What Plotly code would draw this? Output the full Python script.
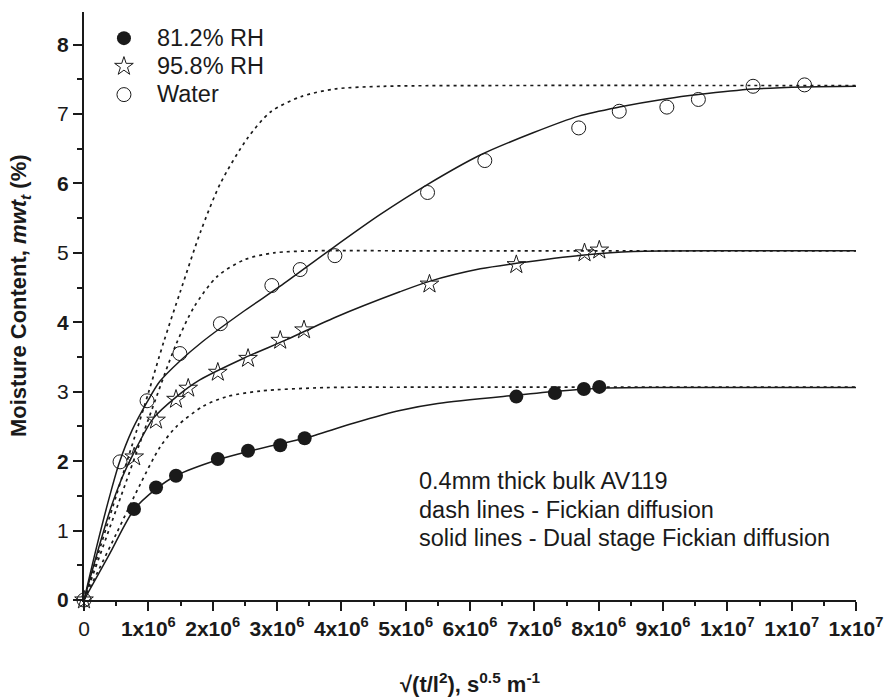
import numpy as np
import plotly.graph_objects as go

SCALE = 1e6  # x values below are listed in units of 10^6 s^0.5 m^-1

# Measured moisture uptake
rh81_x = [0.777, 1.12, 1.43, 2.08, 2.55, 3.05, 3.43, 6.72, 7.32, 7.77, 8.01]
rh81_y = [1.31, 1.62, 1.79, 2.03, 2.15, 2.23, 2.33, 2.93, 2.98, 3.04, 3.07]

rh95_x = [0, 0.78, 1.12, 1.43, 1.62, 2.08, 2.55, 3.05, 3.42, 5.37, 6.72, 7.78, 8.01]
rh95_y = [0, 2.06, 2.59, 2.89, 3.05, 3.28, 3.48, 3.74, 3.89, 4.55, 4.83, 5.00, 5.04]

water_x = [0, 0.56, 0.98, 1.49, 2.12, 2.92, 3.36, 3.90, 5.34, 6.23, 7.69, 8.32, 9.06, 9.55, 10.40, 11.20]
water_y = [0, 1.99, 2.87, 3.55, 3.98, 4.53, 4.76, 4.96, 5.87, 6.33, 6.80, 7.04, 7.10, 7.21, 7.40, 7.42]

# Dual stage Fickian fits (solid)
rh81_dual_x = [0, 0.39, 0.777, 1.12, 1.43, 2.08, 2.55, 3.05, 3.43, 4.2, 4.91, 5.5, 6.72, 7.4, 8.02, 9.0, 10.1, 12.0]
rh81_dual_y = [0, 0.65, 1.30, 1.60, 1.79, 2.02, 2.14, 2.25, 2.33, 2.55, 2.73, 2.83, 2.95, 3.01, 3.05, 3.06, 3.06, 3.06]

rh95_dual_x = [0, 0.2, 0.4, 0.6, 0.78, 1.08, 1.44, 1.8, 2.5, 3.15, 3.9, 4.91, 5.37, 6.16, 6.72, 7.78, 8.54, 10.09, 12.0]
rh95_dual_y = [0, 0.66, 1.28, 1.78, 2.13, 2.62, 2.93, 3.17, 3.49, 3.75, 4.07, 4.44, 4.59, 4.77, 4.85, 4.97, 5.02, 5.03, 5.03]

water_dual_x = [0, 0.2, 0.4, 0.55, 0.75, 0.98, 1.18, 1.5, 1.84, 2.5, 3.05, 3.82, 4.6, 5.33, 6.16, 6.98, 7.69, 8.32, 9.06, 9.55, 10.4, 11.2, 12.0]
water_dual_y = [0, 0.78, 1.5, 1.98, 2.45, 2.85, 3.15, 3.45, 3.72, 4.17, 4.52, 5.04, 5.55, 5.98, 6.41, 6.73, 6.97, 7.10, 7.22, 7.28, 7.36, 7.39, 7.40]

# Single stage Fickian fits (dashed)
rh81_fick_x = [0, 0.5, 0.87, 1.18, 1.44, 1.85, 2.22, 2.74, 3.77, 5.0, 12.0]
rh81_fick_y = [0, 0.95, 1.66, 2.20, 2.50, 2.79, 2.93, 3.01, 3.06, 3.065, 3.065]

rh95_fick_x = [0, 0.5, 1.0, 1.43, 1.71, 2.07, 2.49, 2.95, 3.6, 5.0, 12.0]
rh95_fick_y = [0, 1.30, 2.60, 3.68, 4.22, 4.66, 4.90, 5.00, 5.03, 5.03, 5.03]

water_fick_x = [0, 0.5, 1.0, 1.24, 1.5, 1.81, 2.12, 2.54, 2.9, 3.37, 3.89, 4.66, 6.0, 12.0]
water_fick_y = [0, 1.50, 2.98, 3.72, 4.45, 5.30, 6.00, 6.65, 7.03, 7.25, 7.36, 7.40, 7.41, 7.41]

# Axis ticks
x_tick_vals = list(range(0, 13))
x_tick_text = ["0"] + [f"<b>{i}x10<sup>6</sup></b>" for i in range(1, 10)] + ["<b>1x10<sup>7</sup></b>"] * 3
y_tick_vals = list(range(0, 9))
y_tick_text = [f"<b>{v}</b>" if v % 2 == 0 else str(v) for v in y_tick_vals]

series_names = ["81.2% RH", "95.8% RH", "Water"]
note_lines = ["0.4mm thick bulk AV119", "dash lines - Fickian diffusion",
              "solid lines - Dual stage Fickian diffusion"]

FONT = "Liberation Sans, Arial, Helvetica, sans-serif"
INK = "#1a1a1a"
TEXT_PX = 23.5


def xs(values):
    return np.array(values, dtype=float) * SCALE


def big(text):
    return f'<span style="font-size:{TEXT_PX}px">{text}</span>'


fig = go.Figure()

# fitted curves
for cx, cy in [(rh81_fick_x, rh81_fick_y), (rh95_fick_x, rh95_fick_y), (water_fick_x, water_fick_y)]:
    fig.add_trace(go.Scatter(x=xs(cx), y=cy, mode="lines", showlegend=False, hoverinfo="skip",
                             line=dict(color=INK, width=1.7, dash="3px,4px", shape="spline", smoothing=0.8)))
for cx, cy in [(rh81_dual_x, rh81_dual_y), (rh95_dual_x, rh95_dual_y), (water_dual_x, water_dual_y)]:
    fig.add_trace(go.Scatter(x=xs(cx), y=cy, mode="lines", showlegend=False, hoverinfo="skip",
                             line=dict(color=INK, width=1.5, shape="spline", smoothing=0.8)))

# measured data
fig.add_trace(go.Scatter(x=xs(rh81_x), y=rh81_y, mode="markers", name=big(series_names[0]), cliponaxis=False,
                         marker=dict(symbol="circle", size=14, color=INK, line=dict(width=0))))
fig.add_trace(go.Scatter(x=xs(rh95_x), y=rh95_y, mode="markers", name=big(series_names[1]), cliponaxis=False,
                         marker=dict(symbol="star-open", size=14, color=INK, line=dict(width=1))))
fig.add_trace(go.Scatter(x=xs(water_x), y=water_y, mode="markers", name=big(series_names[2]), cliponaxis=False,
                         marker=dict(symbol="circle-open", size=14, color=INK, line=dict(width=1))))

X_RANGE = [0, 12 * SCALE]
Y_RANGE = [0, 8.47]
x_minor = xs([i + 0.5 for i in range(12)])
x_all = xs([i * 0.5 for i in range(25)])
y_minor = [i + 0.5 for i in range(8)]
y_all = [i * 0.5 for i in range(17)]

common = dict(showgrid=False, zeroline=False, tickcolor=INK, tickwidth=2, autorange=False, automargin=False)
TICK_FONT = dict(size=21, family=FONT, color=INK)

fig.update_layout(
    width=884, height=697,
    margin=dict(l=84, r=28, t=12, b=97, autoexpand=False),
    paper_bgcolor="white", plot_bgcolor="white",
    font=dict(family=FONT, color=INK, size=19),
    xaxis=dict(range=X_RANGE, tickmode="array", tickvals=xs(x_tick_vals), ticktext=x_tick_text,
               ticks="outside", ticklen=9, showline=True, linewidth=2, linecolor=INK,
               tickfont=TICK_FONT,
               minor=dict(tickmode="array", tickvals=x_minor, ticks="outside", ticklen=4,
                          tickwidth=2, tickcolor=INK), **common),
    xaxis2=dict(range=X_RANGE, overlaying="x", anchor="y", side="bottom", tickmode="array",
                tickvals=xs(x_tick_vals), ticks="inside", ticklen=9, showticklabels=False, showline=False,
                minor=dict(tickmode="array", tickvals=x_minor, ticks="inside", ticklen=4,
                           tickwidth=2, tickcolor=INK), **common),
    xaxis3=dict(range=X_RANGE, overlaying="x", anchor="y", side="top", tickmode="array",
                tickvals=x_all, ticks="inside", ticklen=8, showticklabels=False,
                showline=True, linewidth=2, linecolor=INK, **common),
    yaxis=dict(range=Y_RANGE, tickmode="array", tickvals=y_tick_vals, ticktext=y_tick_text,
               ticks="outside", ticklen=9, showline=True, linewidth=2, linecolor=INK,
               tickfont=TICK_FONT,
               minor=dict(tickmode="array", tickvals=y_minor, ticks="outside", ticklen=5,
                          tickwidth=2, tickcolor=INK), **common),
    yaxis2=dict(range=Y_RANGE, overlaying="y", anchor="x", side="left", tickmode="array",
                tickvals=y_tick_vals, ticks="inside", ticklen=9, showticklabels=False, showline=False,
                minor=dict(tickmode="array", tickvals=y_minor, ticks="inside", ticklen=5,
                           tickwidth=2, tickcolor=INK), **common),
    yaxis3=dict(range=Y_RANGE, overlaying="y", anchor="x", side="right", tickmode="array",
                tickvals=y_all, ticks="inside", ticklen=8, showticklabels=False,
                showline=True, linewidth=2, linecolor=INK, **common),
    legend=dict(x=0.009, y=0.988, xanchor="left", yanchor="top", itemwidth=56,
                font=dict(size=19.4, family=FONT, color=INK), bgcolor="rgba(0,0,0,0)",
                tracegroupgap=0),
    showlegend=True,
)

# axis titles
fig.add_annotation(xref="paper", yref="paper", x=0.5, y=0, yshift=-83, xanchor="center", yanchor="middle",
                   text="<b>\u221a(t/l<sup>2</sup>), s<sup>0.5</sup> m<sup>-1</sup></b>", showarrow=False,
                   font=dict(size=22, family=FONT, color=INK))
fig.add_annotation(xref="paper", yref="paper", x=0, y=0.517, xshift=-64, xanchor="center", yanchor="middle",
                   textangle=-90, showarrow=False,
                   text="<b>Moisture Content, <i>mwt</i><sub><i>t</i></sub> (%)</b>",
                   font=dict(size=22, family=FONT, color=INK))

# note text
fig.add_annotation(xref="x", yref="y", x=5.18 * SCALE, y=1.31, xanchor="left", yanchor="middle",
                   align="left", showarrow=False,
                   text="<br>".join(big(t) for t in note_lines),
                   font=dict(size=22, family=FONT, color=INK))

fig.write_html("out.html")
